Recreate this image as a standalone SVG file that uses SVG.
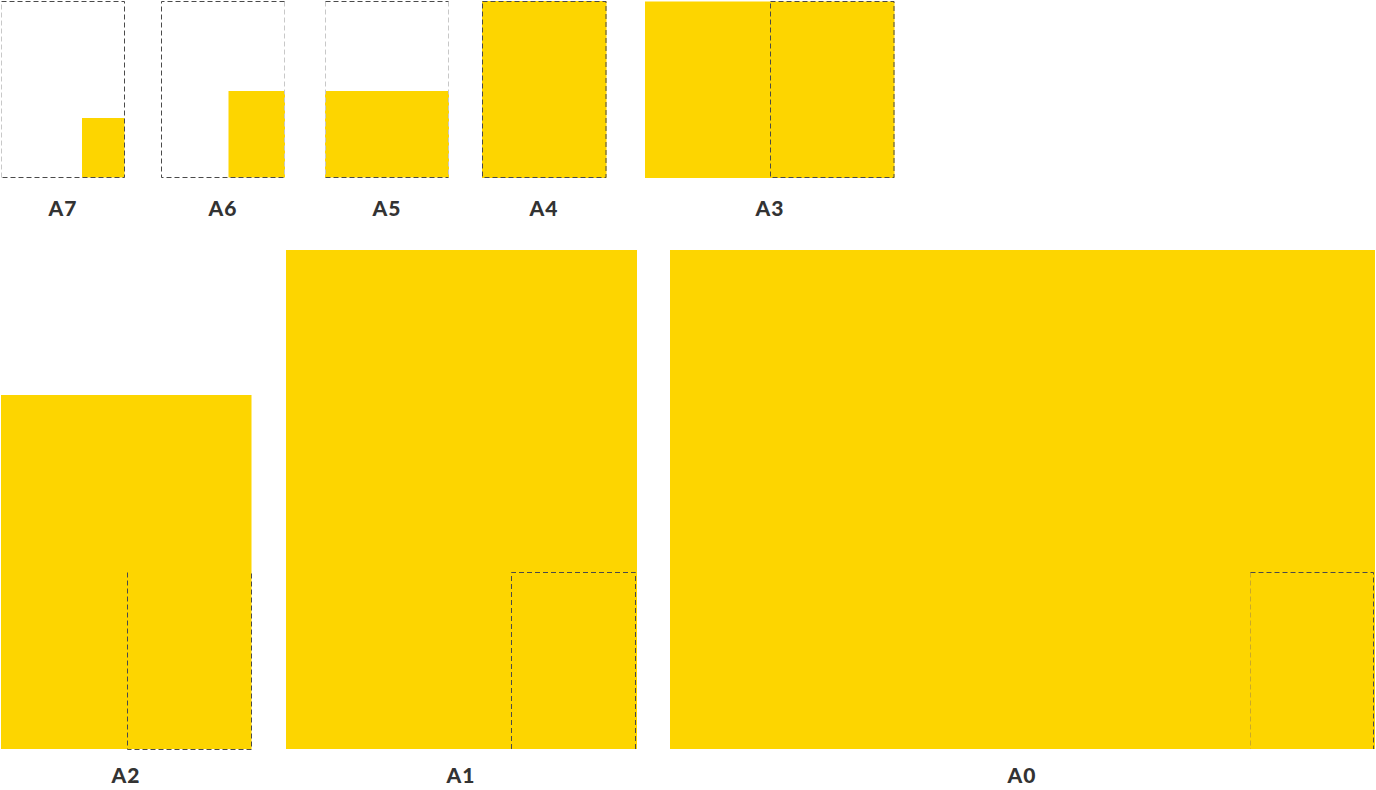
<svg xmlns="http://www.w3.org/2000/svg" width="1376" height="790" viewBox="0 0 1376 790">
<style>
.y{fill:#FDD500}
.d{stroke:#4a4a4a;stroke-width:1;stroke-dasharray:5 3;fill:none}
.l{stroke:#c8c8c8;stroke-width:1;stroke-dasharray:5 3;fill:none}
.t{stroke:#c9a92a;stroke-width:1;stroke-dasharray:5 3;fill:none}
.lab{font-family:Lato,"Liberation Sans",sans-serif;font-weight:900;font-size:21px;fill:#333;text-anchor:middle;letter-spacing:1px}
</style>
<rect width="1376" height="790" fill="#fff"/>
<g id="A7">
<rect class="y" x="82" y="118" width="42.5" height="59.5"/>
<path class="l" d="M1.5 177.5V1.5"/>
<path class="d" d="M1.5 1.5H124.5V177.5H1.5"/>
<text class="lab" x="63" y="216">A7</text>
</g>
<g id="A6">
<rect class="y" x="228.5" y="91" width="56.5" height="86.5"/>
<path class="l" d="M284.5 1.5V177.5"/>
<path class="d" d="M284.5 1.5H161.5V177.5H284.5"/>
<text class="lab" x="223" y="216">A6</text>
</g>
<g id="A5">
<rect class="y" x="325" y="91" width="124" height="86.5"/>
<path class="l" d="M325.5 1.5V177.5M448.5 1.5V177.5"/>
<path class="d" d="M325.5 1.5H448.5M325.5 177.5H448.5"/>
<text class="lab" x="387" y="216">A5</text>
</g>
<g id="A4">
<rect class="y" x="482" y="1" width="124.5" height="177"/>
<rect class="d" x="482.5" y="1.5" width="123.5" height="176"/>
<text class="lab" x="544" y="216">A4</text>
</g>
<g id="A3">
<rect class="y" x="645" y="1.5" width="249.5" height="176.5"/>
<rect class="d" x="770.5" y="1.5" width="123.5" height="176"/>
<text class="lab" x="770" y="216">A3</text>
</g>
<g id="A2">
<rect class="y" x="1" y="395" width="250.5" height="354"/>
<path class="d" d="M127.5 572.5V749.5H251.5V572.5"/>
<text class="lab" x="126" y="783">A2</text>
</g>
<g id="A1">
<rect class="y" x="286" y="250" width="351" height="499"/>
<path class="d" d="M511.5 749V572.5H635.5V749"/>
<text class="lab" x="461" y="783">A1</text>
</g>
<g id="A0">
<rect class="y" x="670" y="250" width="705" height="499"/>
<path class="t" d="M1250.5 572.5V749"/>
<path class="d" d="M1250.5 572.5H1373.5V749"/>
<text class="lab" x="1022" y="783">A0</text>
</g>
<g id="connectors"></g>
</svg>
